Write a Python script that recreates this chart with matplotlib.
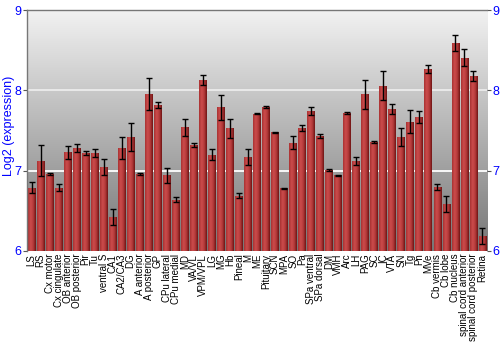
import numpy as np
import matplotlib
matplotlib.use("Agg")
import matplotlib.pyplot as plt
from matplotlib.colors import LinearSegmentedColormap

categories = ["LS", "RS", "Cx motor", "Cx cingulate", "OB anterior", "OB posterior", "Pir", "Tu",
              "ventral S", "CA1", "CA2/CA3", "DG", "A anterior", "A posterior", "GP", "CPu lateral",
              "CPu medial", "MD", "VA/VL", "VPM/VPL", "LG", "MG", "Hb", "Pineal", "M", "ME",
              "Pituitary", "SCN", "MPA", "SO", "Pa", "SPa ventral", "SPa dorsal", "DM", "VMH", "Arc",
              "LH", "PAG", "SC", "IC", "VTA", "SN", "Tg", "Pn", "MVe", "Cb vermis", "Cb lobe",
              "Cb nucleus", "spinal cord anterior", "spinal cord posterior", "Retina"]
values = [6.79, 7.125, 6.96, 6.79, 7.23, 7.28, 7.22, 7.22, 7.04, 6.42, 7.28, 7.42, 6.96, 7.96, 7.82,
          6.94, 6.64, 7.54, 7.32, 8.13, 7.20, 7.79, 7.53, 6.69, 7.17, 7.71, 7.79, 7.48, 6.78, 7.35,
          7.53, 7.74, 7.43, 7.01, 6.94, 7.72, 7.12, 7.95, 7.36, 8.06, 7.77, 7.42, 7.61, 7.67, 8.27,
          6.80, 6.58, 8.59, 8.41, 8.18, 6.19]
errors = [0.07, 0.19, 0.01, 0.045, 0.08, 0.05, 0.02, 0.05, 0.10, 0.10, 0.14, 0.17, 0.01, 0.20, 0.035,
          0.09, 0.03, 0.11, 0.025, 0.065, 0.065, 0.155, 0.12, 0.03, 0.10, 0.005, 0.01, 0.005, 0.005,
          0.08, 0.04, 0.05, 0.025, 0.01, 0.01, 0.01, 0.045, 0.18, 0.01, 0.18, 0.065, 0.115, 0.14,
          0.07, 0.05, 0.035, 0.10, 0.10, 0.10, 0.06, 0.10]
yticks = [6, 7, 8, 9]

plt.rcParams['font.family'] = ['Liberation Sans', 'DejaVu Sans']

fig = plt.figure(figsize=(5, 3.5), dpi=100)
ax = fig.add_axes([0.054, 0.283, 0.92, 0.688])

x = np.arange(len(categories))
ymin, ymax = 6, 9
xl = (-0.5, len(categories) - 0.5)

# background vertical gradient (light at top, dark at bottom)
bg = LinearSegmentedColormap.from_list("bg", ["#f2f2f2", "#767676"])
grad = np.linspace(0, 1, 256).reshape(-1, 1)
ax.imshow(grad, cmap=bg, extent=(xl[0], xl[1], ymin, ymax), origin='upper', aspect='auto', zorder=0)

for yv, c in [(7, "#ffffff"), (8, "#ececec")]:
    ax.axhline(yv, color=c, lw=1.3, zorder=1)

# bars with horizontal gradient
width = 0.86
barcm = LinearSegmentedColormap.from_list("bar", ["#a83232", "#cc4c4c", "#b43a3a", "#6e1414"], N=64)
hgrad = np.linspace(0, 1, 64).reshape(1, -1)
bars = ax.bar(x, np.array(values) - ymin, bottom=ymin, width=width, color="#b03838",
              edgecolor="none", zorder=2)
for b in bars:
    bx, by = b.get_x(), b.get_y()
    bw, bh = b.get_width(), b.get_height()
    im = ax.imshow(hgrad, cmap=barcm, extent=(bx, bx + bw, by, by + bh), aspect='auto', zorder=2.5)
    im.set_clip_path(b)

ax.errorbar(x, values, yerr=errors, fmt='none', ecolor='black', elinewidth=1.0,
            capsize=2, capthick=1.0, zorder=3)
ax.set_xlim(*xl)
ax.set_ylim(ymin, ymax)

ax.set_xticks(x)
ax.set_xticklabels(categories, rotation=90, fontsize=7)
ax.tick_params(axis='x', length=0, pad=2)
ax.set_yticks(yticks)
ax.tick_params(axis='y', labelcolor='#0000ff', color='#555555', length=3, labelsize=9,
               right=True, labelright=True, pad=1)
ax.set_ylabel("Log2 (expression)", color='#0000ff', fontsize=9)
ax.yaxis.set_label_coords(-0.025, 0.52)

for s in ['bottom', 'right']:
    ax.spines[s].set_visible(False)
for s in ['left', 'top']:
    ax.spines[s].set_color('#777777')
    ax.spines[s].set_linewidth(1.0)

fig.savefig("out.png", dpi=100)
